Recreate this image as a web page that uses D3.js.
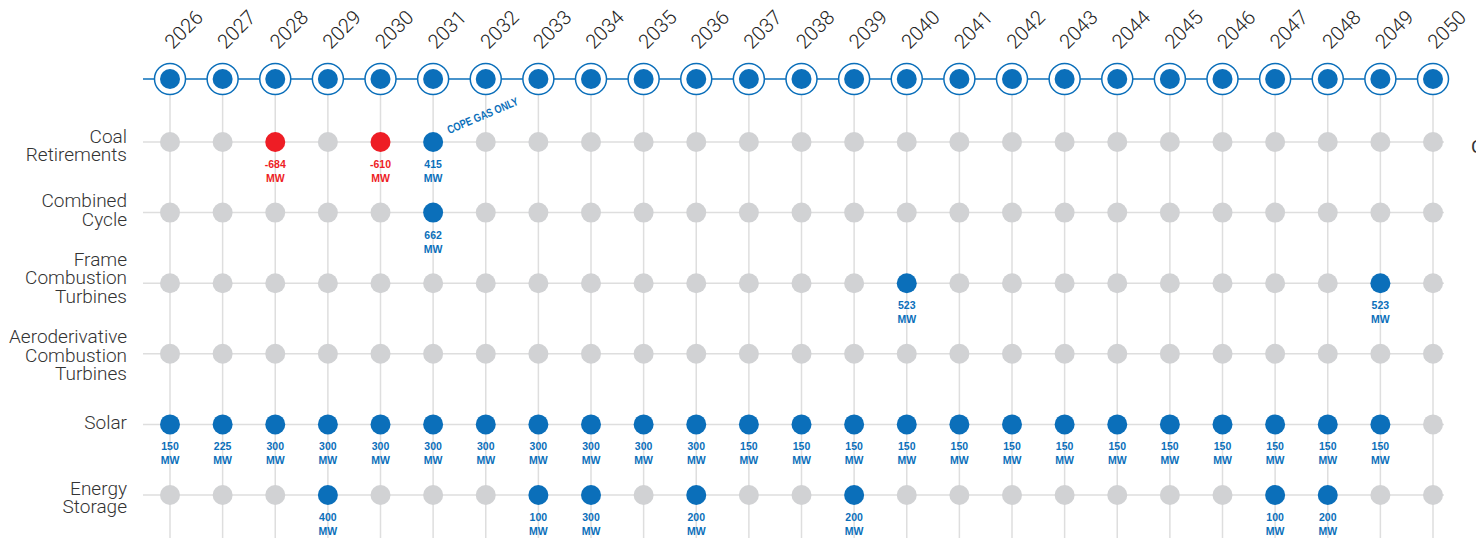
<!DOCTYPE html>
<html lang="en">
<head>
  <meta charset="UTF-8">
  <title>Resource Timeline</title>
  <script src="https://d3js.org/d3.v7.min.js"></script>
  <style>
    body { margin: 0; background: #fff; }
    svg { display: block; }
    .rowlab { font-family: Roboto, "Liberation Sans", sans-serif; font-weight: 300; font-size: 19px; fill: #333; }
    .yearlab { font-family: Roboto, "Liberation Sans", sans-serif; font-weight: 300; font-size: 20px; fill: #222; }
    .val { font-family: "Liberation Sans Narrow", "Arial Narrow", sans-serif; font-weight: 700; font-size: 10.5px; }
  </style>
</head>
<body>
  <svg width="1476" height="538"></svg>
  <script>
    const years = d3.range(2026, 2051);
    const rows = ["Coal Retirements", "Combined Cycle", "Frame Combustion Turbines",
                  "Aeroderivative Combustion Turbines", "Solar", "Energy Storage"];
    const rowLines = [["Coal", "Retirements"], ["Combined", "Cycle"], ["Frame", "Combustion", "Turbines"],
                      ["Aeroderivative", "Combustion", "Turbines"], ["Solar"], ["Energy", "Storage"]];

    // additions (MW) per resource; negative = retirement
    const coal = [{year: 2028, mw: -684}, {year: 2030, mw: -610}, {year: 2031, mw: 415}];
    const combinedCycle = [{year: 2031, mw: 662}];
    const frameCT = [{year: 2040, mw: 523}, {year: 2049, mw: 523}];
    const aeroCT = [];
    const solarYears = d3.range(2026, 2050);
    const solarMW = [150, 225, 300, 300, 300, 300, 300, 300, 300, 300, 300,
                     150, 150, 150, 150, 150, 150, 150, 150, 150, 150, 150, 150, 150];
    const solar = solarYears.map((y, i) => ({year: y, mw: solarMW[i]}));
    const storage = [{year: 2029, mw: 400}, {year: 2033, mw: 100}, {year: 2034, mw: 300},
                     {year: 2036, mw: 200}, {year: 2039, mw: 200}, {year: 2047, mw: 100}, {year: 2048, mw: 200}];
    const series = [coal, combinedCycle, frameCT, aeroCT, solar, storage];

    const blue = "#0b6fba", red = "#ee1d25", gray = "#d1d2d4", grid = "#dedede";

    const svg = d3.select("svg");
    const x = d3.scalePoint().domain(years).range([170, 1433]);
    const y = d3.scalePoint().domain(rows).range([142, 495]);
    const topY = 79;
    const labelShift = [4, -2, -5, 2, -1, 3]; // nudge for each label block

    // grid
    svg.append("g").selectAll("line").data(years).enter().append("line")
      .attr("x1", d => x(d)).attr("x2", d => x(d))
      .attr("y1", topY + 16).attr("y2", 538)
      .attr("stroke", grid).attr("stroke-width", 1.5);
    svg.append("g").selectAll("line").data(rows).enter().append("line")
      .attr("x1", 143).attr("x2", 1444)
      .attr("y1", d => y(d)).attr("y2", d => y(d))
      .attr("stroke", grid).attr("stroke-width", 1.5);

    // timeline
    svg.append("line").attr("x1", 143).attr("x2", 1449).attr("y1", topY).attr("y2", topY)
      .attr("stroke", blue).attr("stroke-width", 1.5);
    const tg = svg.append("g").selectAll("g").data(years).enter().append("g")
      .attr("transform", d => `translate(${x(d)},${topY})`);
    tg.append("circle").attr("r", 15.5).attr("fill", "#fff").attr("stroke", blue).attr("stroke-width", 1.5);
    tg.append("circle").attr("r", 10).attr("fill", blue);

    svg.append("g").selectAll("text").data(years).enter().append("text")
      .attr("class", "yearlab")
      .attr("transform", d => `translate(${x(d) + 3},50) rotate(-45)`)
      .text(d => d);

    // row labels
    rows.forEach((r, i) => {
      const lines = rowLines[i];
      const lh = 18.5;
      const y0 = y(r) - (lines.length - 1) * lh / 2 + 6 + labelShift[i];
      const t = svg.append("text").attr("class", "rowlab").attr("text-anchor", "end");
      lines.forEach((l, j) => t.append("tspan").attr("x", 127).attr("y", y0 + j * lh).text(l));
    });

    // dots
    rows.forEach((r, i) => {
      const byYear = new Map(series[i].map(d => [d.year, d.mw]));
      const g = svg.append("g");
      g.selectAll("circle").data(years).enter().append("circle")
        .attr("cx", d => x(d)).attr("cy", y(r)).attr("r", 10)
        .attr("fill", d => !byYear.has(d) ? gray : (byYear.get(d) < 0 ? red : blue));
      const lab = g.selectAll("text").data(series[i]).enter().append("text")
        .attr("class", "val").attr("text-anchor", "middle")
        .attr("fill", d => d.mw < 0 ? red : blue);
      lab.append("tspan").attr("x", d => x(d.year)).attr("y", y(r) + 26).text(d => d.mw);
      lab.append("tspan").attr("x", d => x(d.year)).attr("y", y(r) + 40).text("MW");
    });

    // annotation
    svg.append("text").attr("class", "val").attr("fill", blue)
      .attr("transform", `translate(${x(2031) + 16},${y(rows[0]) - 8}) rotate(-23)`)
      .style("font-size", "11.5px")
      .attr("textLength", 76).attr("lengthAdjust", "spacingAndGlyphs")
      .text("COPE GAS ONLY");

    // label partly outside the frame on the right
    svg.append("text").attr("class", "rowlab").attr("x", 1471).attr("y", 153).style("font-weight", 400).text("C");
  </script>
</body>
</html>
